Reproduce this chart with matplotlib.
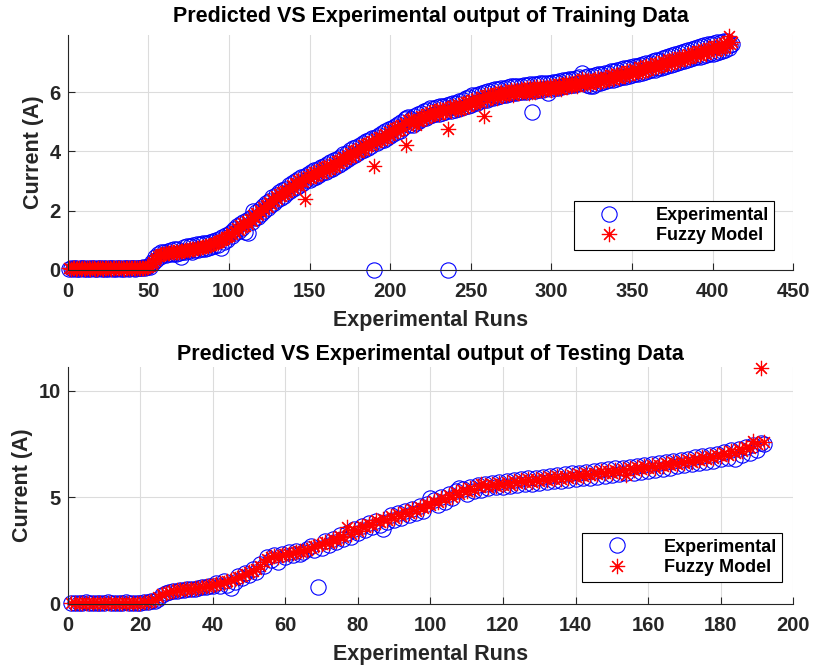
import matplotlib.pyplot as plt
import numpy as np

# Training data (412 runs)
train_exp = [
    0.04, 0.06, 0.03, 0.05, 0.07, 0.04, 0.02, 0.05, 0.06, 0.03,
    0.05, 0.04, 0.07, 0.03, 0.05, 0.06, 0.04, 0.02, 0.05, 0.07,
    0.04, 0.06, 0.03, 0.05, 0.04, 0.07, 0.05, 0.03, 0.06, 0.04,
    0.05, 0.07, 0.04, 0.06, 0.03, 0.05, 0.08, 0.04, 0.06, 0.05,
    0.07, 0.04, 0.06, 0.08, 0.05, 0.07, 0.09, 0.06, 0.10, 0.12,
    0.10, 0.25, 0.22, 0.42, 0.35, 0.55, 0.45, 0.62, 0.50, 0.60,
    0.50, 0.65, 0.52, 0.68, 0.55, 0.70, 0.52, 0.72, 0.58, 0.44,
    0.62, 0.78, 0.60, 0.80, 0.64, 0.82, 0.62, 0.85, 0.66, 0.86,
    0.68, 0.88, 0.70, 0.90, 0.72, 0.92, 0.74, 0.95, 0.78, 0.98,
    0.80, 1.02, 0.85, 1.05, 0.74, 1.10, 0.95, 1.18, 1.02, 1.22,
    1.28, 1.15, 1.38, 1.25, 1.48, 1.32, 1.55, 1.40, 1.62, 1.27,
    1.68, 1.25, 1.74, 1.62, 2.00, 1.75, 1.95, 1.80, 2.06, 1.90,
    2.15, 1.98, 2.25, 2.08, 2.32, 2.18, 2.45, 2.25, 2.52, 2.35,
    2.62, 2.42, 2.70, 2.50, 2.74, 2.58, 2.85, 2.65, 2.92, 2.72,
    3.00, 2.80, 3.08, 2.85, 3.12, 2.95, 3.17, 3.02, 3.25, 3.05,
    3.30, 3.10, 3.36, 3.15, 3.42, 3.22, 3.48, 3.28, 3.52, 3.32,
    3.58, 3.38, 3.64, 3.42, 3.70, 3.48, 3.76, 3.55, 3.82, 3.62,
    3.90, 3.68, 3.96, 3.75, 4.05, 3.82, 4.10, 3.88, 4.15, 3.95,
    4.22, 4.00, 4.28, 4.05, 4.35, 4.12, 4.40, 4.18, 4.45, 0.00,
    4.50, 4.28, 4.55, 4.35, 4.62, 4.40, 4.70, 4.45, 4.75, 4.52,
    4.80, 4.58, 4.86, 4.65, 4.92, 4.70, 5.00, 4.78, 5.10, 5.12,
    5.15, 4.88, 5.08, 4.90, 5.18, 4.95, 5.25, 5.02, 5.30, 5.08,
    5.35, 5.12, 5.40, 5.18, 5.45, 5.22, 5.48, 5.25, 5.50, 5.28,
    5.52, 5.30, 5.55, 5.32, 5.58, 0.00, 5.60, 5.38, 5.62, 5.40,
    5.65, 5.42, 5.70, 5.45, 5.75, 5.50, 5.80, 5.55, 5.85, 5.58,
    5.90, 5.62, 5.92, 5.65, 5.95, 5.70, 5.98, 5.72, 6.02, 5.75,
    6.05, 5.80, 6.08, 5.82, 6.10, 5.85, 6.12, 5.88, 6.15, 5.90,
    6.15, 5.92, 6.18, 5.95, 6.20, 5.96, 6.20, 5.98, 6.22, 6.00,
    6.22, 6.00, 6.25, 6.02, 6.25, 6.03, 6.26, 5.32, 6.28, 6.05,
    6.28, 6.06, 6.30, 6.08, 6.30, 6.10, 6.32, 5.98, 6.32, 6.12,
    6.35, 6.14, 6.36, 6.15, 6.38, 6.18, 6.40, 6.20, 6.42, 6.22,
    6.44, 6.24, 6.46, 6.25, 6.48, 6.28, 6.50, 6.30, 6.65, 6.32,
    6.52, 6.25, 6.55, 6.20, 6.56, 6.22, 6.58, 6.28, 6.60, 6.30,
    6.62, 6.35, 6.64, 6.38, 6.66, 6.40, 6.70, 6.42, 6.72, 6.45,
    6.75, 6.48, 6.78, 6.50, 6.80, 6.52, 6.82, 6.55, 6.85, 6.58,
    6.88, 6.60, 6.90, 6.62, 6.92, 6.65, 6.95, 6.68, 6.98, 6.70,
    7.00, 6.74, 7.04, 6.76, 7.08, 6.80, 7.10, 6.82, 7.14, 6.85,
    7.18, 6.90, 7.22, 6.92, 7.25, 6.95, 7.28, 7.00, 7.32, 7.02,
    7.36, 7.06, 7.40, 7.10, 7.44, 7.12, 7.46, 7.15, 7.50, 7.18,
    7.54, 7.20, 7.56, 7.22, 7.60, 7.25, 7.62, 7.28, 7.64, 7.30,
    7.66, 7.32, 7.68, 7.35, 7.70, 7.40, 7.72, 7.42, 7.74, 7.50,
    7.60, 7.62,
]
train_fuzzy = [
    0.05, 0.04, 0.06, 0.05, 0.03, 0.06, 0.05, 0.04, 0.05, 0.06,
    0.04, 0.05, 0.06, 0.04, 0.05, 0.05, 0.03, 0.04, 0.06, 0.05,
    0.05, 0.04, 0.05, 0.06, 0.05, 0.05, 0.04, 0.05, 0.05, 0.06,
    0.05, 0.06, 0.05, 0.05, 0.04, 0.06, 0.06, 0.05, 0.06, 0.06,
    0.06, 0.05, 0.07, 0.07, 0.06, 0.07, 0.08, 0.08, 0.10, 0.11,
    0.14, 0.20, 0.27, 0.34, 0.40, 0.46, 0.50, 0.52, 0.54, 0.55,
    0.57, 0.56, 0.58, 0.59, 0.60, 0.60, 0.61, 0.62, 0.62, 0.63,
    0.64, 0.65, 0.66, 0.67, 0.68, 0.69, 0.70, 0.71, 0.72, 0.73,
    0.74, 0.75, 0.76, 0.77, 0.79, 0.80, 0.82, 0.83, 0.85, 0.87,
    0.90, 0.92, 0.95, 0.98, 1.00, 1.02, 1.05, 1.10, 1.12, 1.16,
    1.24, 1.20, 1.32, 1.28, 1.42, 1.36, 1.50, 1.44, 1.58, 1.48,
    1.66, 1.54, 1.72, 1.66, 1.86, 1.76, 1.92, 1.84, 2.01, 1.94,
    2.11, 2.04, 2.20, 2.12, 2.28, 2.22, 2.38, 2.31, 2.48, 2.40,
    2.56, 2.48, 2.64, 2.56, 2.66, 2.62, 2.78, 2.70, 2.86, 2.76,
    2.94, 2.86, 3.02, 2.84, 3.06, 2.98, 2.40, 3.08, 3.16, 3.09,
    3.24, 3.16, 3.32, 3.18, 3.34, 3.26, 3.42, 3.28, 3.46, 3.34,
    3.50, 3.42, 3.52, 3.46, 3.62, 3.49, 3.68, 3.60, 3.71, 3.66,
    3.82, 3.74, 3.84, 3.80, 3.96, 3.82, 4.02, 3.89, 4.06, 3.98,
    4.11, 4.04, 4.20, 4.06, 4.26, 4.18, 4.28, 4.22, 4.36, 3.50,
    4.42, 4.32, 4.48, 4.40, 4.46, 4.44, 4.60, 4.46, 4.66, 4.56,
    4.72, 4.62, 4.78, 4.69, 4.82, 4.74, 4.90, 4.79, 4.96, 4.20,
    5.06, 4.98, 5.08, 4.94, 5.04, 4.90, 5.11, 5.02, 5.18, 5.09,
    5.20, 5.14, 5.28, 5.19, 5.32, 5.24, 5.36, 5.28, 5.40, 5.26,
    5.42, 5.32, 5.41, 5.34, 5.48, 4.75, 5.50, 5.38, 5.52, 5.42,
    5.51, 5.44, 5.58, 5.44, 5.62, 5.48, 5.66, 5.52, 5.68, 5.60,
    5.72, 5.64, 5.76, 5.68, 5.74, 5.68, 5.84, 5.20, 5.90, 5.74,
    5.90, 5.80, 5.90, 5.84, 5.96, 5.82, 5.98, 5.90, 6.00, 5.90,
    6.04, 5.91, 6.01, 5.94, 6.06, 5.92, 6.08, 5.99, 6.06, 5.96,
    6.10, 6.00, 6.10, 6.00, 6.14, 5.98, 6.14, 6.00, 6.16, 6.02,
    6.16, 6.06, 6.16, 6.09, 6.18, 6.08, 6.18, 6.10, 6.21, 6.08,
    6.22, 6.12, 6.22, 6.14, 6.26, 6.12, 6.28, 6.16, 6.32, 6.18,
    6.30, 6.22, 6.32, 6.24, 6.36, 6.22, 6.38, 6.26, 6.44, 6.28,
    6.40, 6.32, 6.42, 6.28, 6.38, 6.34, 6.44, 6.30, 6.48, 6.36,
    6.46, 6.38, 6.50, 6.42, 6.52, 6.40, 6.58, 6.44, 6.56, 6.50,
    6.61, 6.48, 6.64, 6.56, 6.64, 6.56, 6.72, 6.59, 6.70, 6.64,
    6.78, 6.66, 6.76, 6.68, 6.84, 6.68, 6.86, 6.72, 6.88, 6.76,
    6.92, 6.80, 6.90, 6.84, 6.98, 6.84, 7.00, 6.88, 7.04, 6.91,
    7.02, 6.94, 7.10, 6.94, 7.12, 7.02, 7.12, 7.04, 7.20, 7.04,
    7.20, 7.12, 7.20, 7.14, 7.30, 7.14, 7.32, 7.22, 7.32, 7.24,
    7.40, 7.24, 7.40, 7.34, 7.44, 7.30, 7.48, 7.40, 7.48, 7.42,
    7.56, 7.40, 7.56, 7.50, 7.58, 7.50, 7.66, 7.50, 7.68, 7.90,
    7.64, 7.70,
]

# Testing data (192 runs)
test_exp = [
    0.05, 0.03, 0.06, 0.04, 0.07, 0.05, 0.03, 0.06, 0.04, 0.05,
    0.07, 0.04, 0.06, 0.03, 0.05, 0.07, 0.05, 0.04, 0.06, 0.05,
    0.08, 0.10, 0.12, 0.15, 0.25, 0.40, 0.50, 0.55, 0.60, 0.62,
    0.64, 0.66, 0.70, 0.68, 0.72, 0.75, 0.78, 0.80, 0.82, 0.85,
    1.00, 0.85, 1.08, 0.90, 0.74, 1.05, 1.32, 1.20, 1.45, 1.35,
    1.62, 1.50, 1.85, 1.80, 2.22, 2.05, 2.30, 1.95, 2.36, 2.22,
    2.42, 2.28, 2.50, 2.35, 2.45, 2.58, 2.72, 2.55, 0.81, 2.62,
    2.95, 2.75, 3.05, 2.90, 3.22, 3.05, 3.35, 3.15, 3.50, 3.32,
    3.65, 3.48, 3.80, 3.60, 3.90, 3.70, 3.50, 3.85, 4.15, 3.95,
    4.25, 4.05, 4.35, 4.15, 4.45, 4.28, 4.58, 4.38, 4.68, 4.95,
    4.86, 4.65, 5.02, 4.80, 5.15, 4.98, 5.28, 5.45, 5.40, 5.18,
    5.50, 5.30, 5.58, 5.36, 5.62, 5.42, 5.68, 5.48, 5.72, 5.50,
    5.78, 5.55, 5.82, 5.60, 5.86, 5.62, 5.90, 5.65, 5.92, 5.68,
    5.96, 5.72, 6.00, 5.75, 6.04, 5.78, 6.08, 5.82, 6.12, 5.85,
    6.16, 5.90, 6.20, 5.92, 6.24, 5.96, 6.28, 6.00, 6.32, 6.05,
    6.36, 6.10, 6.40, 6.12, 6.44, 6.15, 6.48, 6.20, 6.52, 6.25,
    6.56, 6.30, 6.60, 6.35, 6.65, 6.40, 6.70, 6.45, 6.75, 6.50,
    6.82, 6.55, 6.88, 6.60, 6.92, 6.65, 6.98, 6.72, 7.05, 6.78,
    7.12, 6.85, 7.20, 6.80, 7.28, 7.00, 7.36, 7.10, 7.45, 7.20,
    7.55, 7.50,
]
test_fuzzy = [
    0.04, 0.05, 0.05, 0.06, 0.05, 0.04, 0.05, 0.05, 0.06, 0.04,
    0.05, 0.06, 0.05, 0.05, 0.04, 0.06, 0.05, 0.06, 0.05, 0.06,
    0.09, 0.11, 0.14, 0.20, 0.32, 0.45, 0.52, 0.58, 0.62, 0.64,
    0.66, 0.68, 0.70, 0.72, 0.74, 0.76, 0.79, 0.82, 0.84, 0.88,
    0.92, 0.96, 1.00, 1.06, 1.12, 1.18, 1.24, 1.30, 1.38, 1.48,
    1.56, 1.66, 1.80, 1.98, 2.10, 2.18, 2.24, 2.22, 2.30, 2.34,
    2.36, 2.40, 2.44, 2.46, 2.48, 2.54, 2.62, 2.70, 2.74, 2.80,
    2.90, 2.86, 3.06, 2.98, 3.20, 3.14, 3.60, 3.30, 3.48, 3.44,
    3.64, 3.60, 3.76, 3.72, 3.92, 3.82, 4.00, 3.94, 4.12, 4.04,
    4.24, 4.12, 4.32, 4.26, 4.44, 4.36, 4.56, 4.48, 4.68, 4.62,
    4.82, 4.76, 4.98, 4.94, 5.12, 5.04, 5.26, 5.18, 5.36, 5.28,
    5.44, 5.36, 5.52, 5.62, 5.56, 5.48, 5.62, 5.54, 5.66, 5.58,
    5.72, 5.60, 5.76, 5.66, 5.80, 5.70, 5.84, 5.72, 5.86, 5.76,
    5.90, 5.80, 5.94, 5.84, 5.98, 5.88, 6.02, 5.90, 6.06, 5.94,
    6.10, 6.00, 6.12, 6.06, 6.16, 6.10, 6.22, 6.12, 6.26, 6.16,
    6.30, 6.20, 6.34, 6.06, 6.38, 6.28, 6.42, 6.32, 6.46, 6.36,
    6.50, 6.40, 6.54, 6.46, 6.60, 6.50, 6.64, 6.58, 6.70, 6.62,
    6.76, 6.66, 6.82, 6.74, 6.88, 6.78, 6.94, 6.86, 7.00, 6.92,
    7.08, 7.00, 7.16, 7.08, 7.26, 7.16, 7.38, 7.30, 7.66, 7.50,
    11.07, 7.62,
]

plt.rcParams['font.family'] = ['Liberation Sans', 'DejaVu Sans']
plt.rcParams['font.weight'] = 'bold'
dark = '#262626'
star = (8, 2, 0)


def draw_panel(ax, exp, fuzzy, title, xlim, ylim, yticks, xticks, legend_anchor, title_pad):
    runs = np.arange(1, len(exp) + 1)
    ax.plot(runs, exp, linestyle='none', marker='o', markersize=11,
            markerfacecolor='none', markeredgecolor='blue', markeredgewidth=0.8,
            label='Experimental', clip_on=False)
    ax.plot(runs, fuzzy, linestyle='none', marker=star, markersize=11,
            markeredgecolor='red', markeredgewidth=0.85,
            label='Fuzzy Model', clip_on=False)
    ax.set_xlim(xlim)
    ax.set_ylim(ylim)
    ax.set_xticks(xticks)
    ax.set_yticks(yticks)
    ax.grid(True, color='#dcdcdc', linewidth=0.8)
    ax.set_axisbelow(True)
    for s in ['top', 'right']:
        ax.spines[s].set_visible(False)
    for s in ['left', 'bottom']:
        ax.spines[s].set_color(dark)
    ax.tick_params(direction='in', length=5, colors=dark, labelsize=14.5)
    ax.tick_params(axis='x', pad=9)
    ax.tick_params(axis='y', pad=5)
    ax.set_title(title, fontsize=15.5, fontweight='bold', pad=title_pad)
    ax.set_xlabel('Experimental Runs', fontsize=15.5, fontweight='bold', color=dark, labelpad=6)
    ax.set_ylabel('Current (A)', fontsize=15.5, fontweight='bold', color=dark, labelpad=4)
    leg = ax.legend(loc='lower right', bbox_to_anchor=legend_anchor, borderaxespad=0,
                    fancybox=False, edgecolor='black', framealpha=1, fontsize=13,
                    handlelength=3.2, handletextpad=1.0, borderpad=0.3,
                    labelspacing=0.2)
    leg.get_frame().set_linewidth(0.8)


fig = plt.figure(figsize=(8.16, 6.68), dpi=100)
ax1 = fig.add_axes([0.083, 0.596, 0.889, 0.352])
ax2 = fig.add_axes([0.083, 0.096, 0.889, 0.354])

draw_panel(ax1, train_exp, train_fuzzy, 'Predicted VS Experimental output of Training Data',
           (0, 450), (0, 7.94), [0, 2, 4, 6], np.arange(0, 451, 50), (0.974, 0.085), 9)
draw_panel(ax2, test_exp, test_fuzzy, 'Predicted VS Experimental output of Testing Data',
           (0, 200), (0, 11.1), [0, 5, 10], np.arange(0, 201, 20), (0.985, 0.094), 5)

fig.savefig('out.png', dpi=100)
